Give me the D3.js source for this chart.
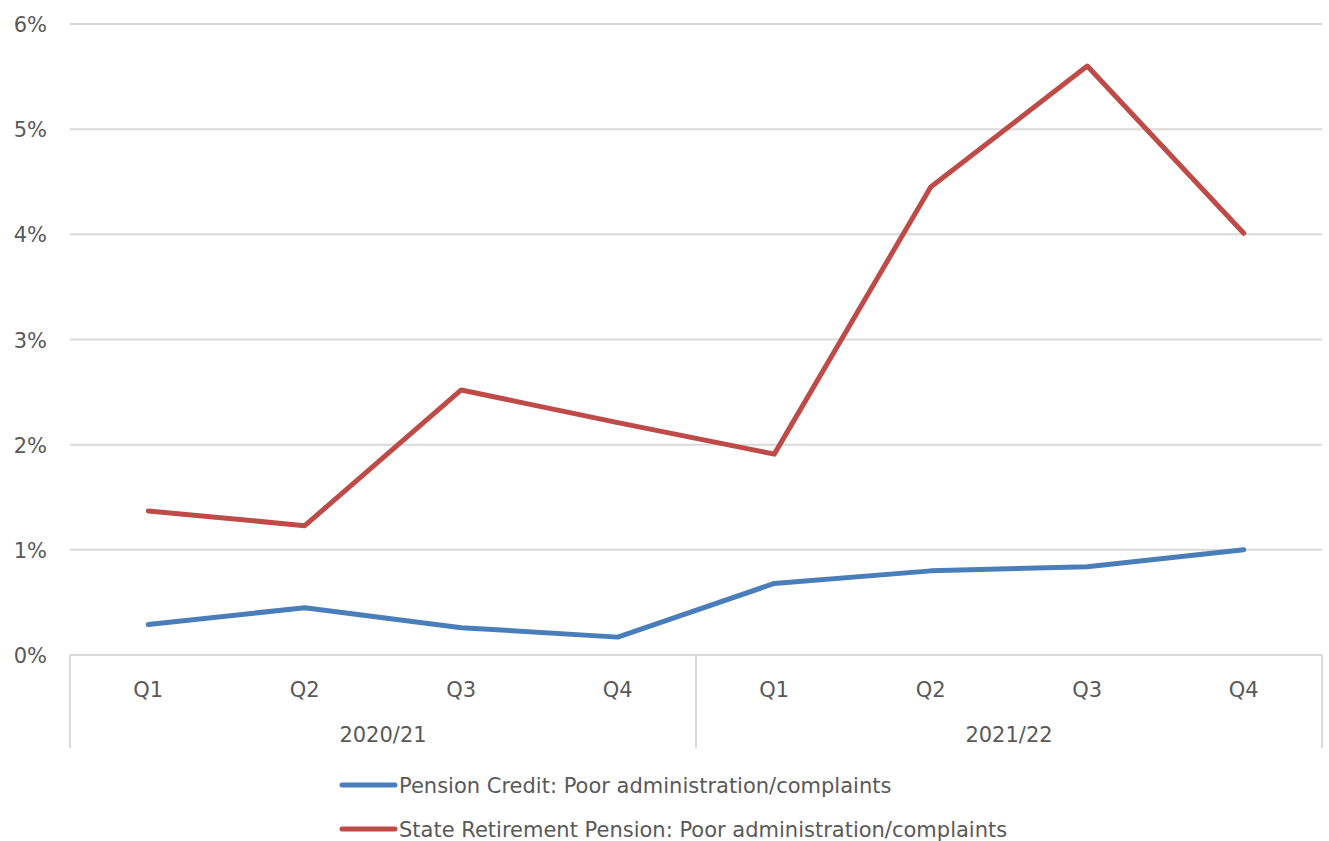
<!doctype html>
<html>
<head>
<meta charset="utf-8">
<script src="https://cdnjs.cloudflare.com/ajax/libs/d3/7.8.5/d3.min.js"></script>
<style>
  body { margin: 0; background: white; }
  svg { background: white; display: block; }
  text { font-family: "DejaVu Sans", sans-serif; fill: #595959; }
</style>
</head>
<body>
<svg width="1329" height="841"></svg>
<script>
const quarters = ["Q1", "Q2", "Q3", "Q4", "Q1", "Q2", "Q3", "Q4"];
const years = ["2020/21", "2021/22"];
const pensionCredit = [0.29, 0.45, 0.26, 0.17, 0.68, 0.80, 0.84, 1.00];
const stateRetirement = [1.37, 1.23, 2.52, 2.21, 1.91, 4.45, 5.60, 4.01];
const seriesNames = ["Pension Credit: Poor administration/complaints",
                     "State Retirement Pension: Poor administration/complaints"];
const colors = ["#4a7ebb", "#be4b48"];
const yTicks = [0, 1, 2, 3, 4, 5, 6];

const svg = d3.select("svg");
const mLeft = 70, mRight = 1322, mTop = 24, mBottom = 655;

const x = d3.scaleBand().domain(d3.range(quarters.length)).range([mLeft, mRight]);
const y = d3.scaleLinear().domain([0, 6]).range([mBottom, mTop]);

// gridlines
svg.selectAll(".grid").data(yTicks.filter(d => d > 0)).enter().append("line")
  .attr("x1", mLeft).attr("x2", mRight)
  .attr("y1", d => y(d)).attr("y2", d => y(d))
  .style("stroke", "#d9d9d9").style("stroke-width", "2px");

// y labels
svg.selectAll(".ylab").data(yTicks).enter().append("text")
  .attr("x", 47).attr("y", d => y(d) + 8)
  .attr("text-anchor", "end").style("font-size", "21px")
  .text(d => d + "%");

// x axis line
svg.append("line").attr("x1", mLeft).attr("x2", mRight)
  .attr("y1", mBottom).attr("y2", mBottom)
  .style("stroke", "#d9d9d9").style("stroke-width", "2px");

// group separators
const sepIdx = [0, 4, 8];
svg.selectAll(".sep").data(sepIdx).enter().append("line")
  .attr("x1", d => mLeft + d * x.bandwidth()).attr("x2", d => mLeft + d * x.bandwidth())
  .attr("y1", mBottom).attr("y2", 748)
  .style("stroke", "#d9d9d9").style("stroke-width", "2px");

// quarter labels
svg.selectAll(".qlab").data(quarters).enter().append("text")
  .attr("x", (d, i) => x(i) + x.bandwidth() / 2).attr("y", 697)
  .attr("text-anchor", "middle").style("font-size", "21px")
  .text(d => d);

// year labels
svg.selectAll(".yrlab").data(years).enter().append("text")
  .attr("x", (d, i) => mLeft + (i * 4 + 2) * x.bandwidth()).attr("y", 742)
  .attr("text-anchor", "middle").style("font-size", "21px")
  .text(d => d);

// lines
const line = d3.line().x((d, i) => x(i) + x.bandwidth() / 2).y(d => y(d));
[pensionCredit, stateRetirement].forEach((s, k) => {
  svg.append("path").datum(s).attr("d", line)
    .style("fill", "none").style("stroke", colors[k])
    .style("stroke-width", "5px").style("stroke-linecap", "round")
    .style("stroke-linejoin", "round");
});

// legend
seriesNames.forEach((n, k) => {
  const ly = 785 + k * 44;
  svg.append("line").attr("x1", 342).attr("x2", 395).attr("y1", ly).attr("y2", ly)
    .style("stroke", colors[k]).style("stroke-width", "5px").style("stroke-linecap", "round");
  svg.append("text").attr("x", 399).attr("y", ly + 8).style("font-size", "21px").text(n);
});
</script>
</body>
</html>
